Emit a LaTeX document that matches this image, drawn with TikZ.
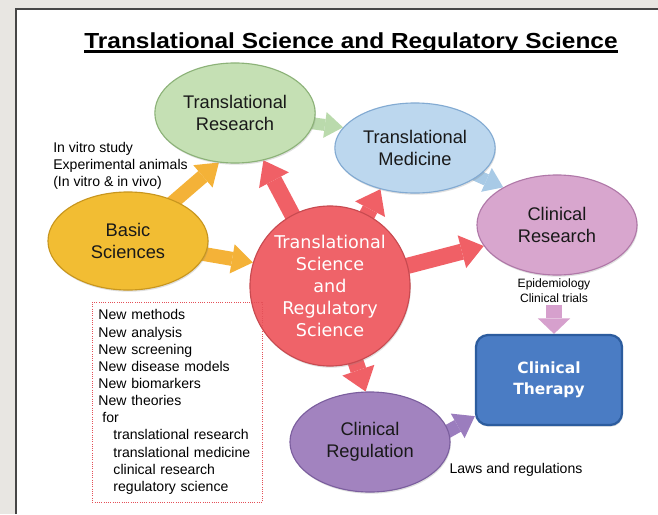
\documentclass[tikz,border=0pt]{standalone}
\usepackage{fontspec}
\setmainfont{Liberation Sans}
\newfontfamily\dejavu{DejaVu Sans}
\newfontfamily\titlefont[FakeStretch=1.12]{Liberation Sans}
\usetikzlibrary{positioning,arrows.meta,shapes.geometric,shadows,backgrounds}

\definecolor{slidegray}{RGB}{232,230,226}
\definecolor{framegray}{RGB}{70,70,70}
\definecolor{trgreen}{RGB}{197,224,180}
\definecolor{trgreenline}{RGB}{140,178,120}
\definecolor{tmblue}{RGB}{188,215,238}
\definecolor{tmblueline}{RGB}{130,170,210}
\definecolor{crpink}{RGB}{216,166,206}
\definecolor{crpinkline}{RGB}{176,120,168}
\definecolor{bsyellow}{RGB}{242,189,51}
\definecolor{bsyellowline}{RGB}{200,150,30}
\definecolor{tsred}{RGB}{239,99,105}
\definecolor{tsredline}{RGB}{200,74,80}
\definecolor{regpurple}{RGB}{162,131,191}
\definecolor{regpurpleline}{RGB}{123,94,158}
\definecolor{ctblue}{RGB}{74,124,196}
\definecolor{ctblueline}{RGB}{44,92,158}
\definecolor{boxred}{RGB}{228,80,88}
\definecolor{arryellow}{RGB}{244,178,56}
\definecolor{arrred}{RGB}{240,96,102}
\definecolor{arrgreen}{RGB}{186,218,172}
\definecolor{arrblue}{RGB}{168,202,230}
\definecolor{arrpink}{RGB}{214,160,205}
\definecolor{arrpurple}{RGB}{155,125,190}

\tikzset{
  bubble/.style={ellipse, draw, line width=0.8pt, minimum width=4cm,
                 minimum height=2.5cm, align=center, text=black!90,
                 font=\fontsize{13}{15.6}\selectfont,
                 drop shadow={opacity=0.25, shadow xshift=0.6pt, shadow yshift=-1.2pt}},
  greenbubble/.style={bubble, draw=trgreenline, fill=trgreen},
  bluebubble/.style={bubble, draw=tmblueline, fill=tmblue},
  pinkbubble/.style={bubble, draw=crpinkline, fill=crpink},
  yellowbubble/.style={bubble, draw=bsyellowline, fill=bsyellow},
  purplebubble/.style={bubble, draw=regpurpleline, fill=regpurple},
  redcircle/.style={circle, draw=tsredline, fill=tsred, line width=0.8pt,
                    minimum size=4cm, inner sep=0pt, align=center, text=white,
                    font=\dejavu\fontsize{12.5}{15.6}\selectfont,
                    drop shadow={opacity=0.25, shadow xshift=0.6pt, shadow yshift=-1.2pt}},
  therapybox/.style={rectangle, rounded corners=0.3cm, draw=ctblueline, line width=1.6pt,
                     fill=ctblue, minimum width=3.65cm, minimum height=2.25cm,
                     align=center, text=white, font=\dejavu\bfseries\fontsize{11}{15}\selectfont,
                     drop shadow={opacity=0.25, shadow xshift=0.6pt, shadow yshift=-1.2pt}},
  note/.style={align=left, inner sep=0pt, font=\fontsize{10}{12.2}\selectfont},
  notebox/.style={note, draw=boxred, densely dotted, line width=0.6pt, text width=3.95cm,
                  minimum height=5cm, inner xsep=0.15cm},
  fatarrow/.style={line width=10pt, -{Triangle[length=15pt, width=21pt, line width=0pt]}},
  yellowarrow/.style={fatarrow, draw=arryellow},
  redarrow/.style={line width=11.5pt, draw=arrred,
                   -{Triangle[length=16pt, width=24pt, line width=0pt]}},
  greenarrow/.style={line width=8.5pt, draw=arrgreen,
                     -{Triangle[length=13pt, width=18.5pt, line width=0pt]}},
  bluearrow/.style={line width=8.5pt, draw=arrblue,
                    -{Triangle[length=13pt, width=18.5pt, line width=0pt]}},
  pinkarrow/.style={line width=12pt, draw=arrpink,
                    -{Triangle[length=11pt, width=23pt, line width=0pt]}},
  purplearrow/.style={line width=9.5pt, draw=arrpurple,
                      -{Triangle[length=14pt, width=20pt, line width=0pt]}},
}

\begin{document}
\begin{tikzpicture}[x=0.025cm, y=-0.025cm]
  \useasboundingbox (0,0) rectangle (658,514);
  \begin{pgfonlayer}{background}
    % slide page
    \fill[slidegray] (0,0) rectangle (658,514);
    \fill[white] (16,9) rectangle (658,514);
    \draw[framegray, line width=1.4pt] (16,514) -- (16,9) -- (658,9);
  \end{pgfonlayer}

  % title
  \node[anchor=base, inner sep=0pt, font=\titlefont\bfseries\fontsize{15.5}{18}\selectfont]
    (title) at (351,48) {Translational Science and Regulatory Science};
  \draw[line width=1.6pt] ([yshift=-2.4pt]title.base west) -- ([yshift=-2.4pt]title.base east);

  % fields
  \node[greenbubble] (tr) at (235,113) {Translational\\Research};
  \node[bluebubble, minimum height=2.25cm] (tm) at (415,148) {Translational\\Medicine};
  \node[pinkbubble] (cr) at (557,225) {Clinical\\Research};
  \node[yellowbubble, minimum height=2.45cm] (bs) at (128,241) {Basic\\Sciences};
  \node[redcircle] (tsrs) at (330,286) {Translational\\Science\\and\\Regulatory\\Science};
  \node[purplebubble] (creg) at (370,442) {Clinical\\Regulation};
  \node[therapybox] (ct) at (549,380) {Clinical\\Therapy};

  % side notes
  \node[note, anchor=west] (invitro) at (53,166)
    {In vitro study\\Experimental animals\\(In vitro \& in vivo)};
  \node[notebox] (newlist) at (177.5,402)
    {New methods\\New analysis\\New screening\\New disease models\\New biomarkers\\New theories\\
     \hspace*{0.1cm}for\\
     \hspace*{0.375cm}translational research\\
     \hspace*{0.375cm}translational medicine\\
     \hspace*{0.375cm}clinical research\\
     \hspace*{0.375cm}regulatory science};
  \node[align=center, inner sep=1pt, font=\fontsize{8.6}{10.5}\selectfont] (epi) at (554,291)
    {Epidemiology\\Clinical trials};
  \node[note] (laws) at (516,470) {Laws and regulations};

  % block arrows behind the bubbles
  \begin{pgfonlayer}{background}
    \draw[yellowarrow] (bs.center) -- (tr.-108);
    \draw[yellowarrow] (bs.center) -- (tsrs.163);
    \draw[greenarrow] (tr.center) -- (tm.164);
    \draw[bluearrow] (tm.center) -- (cr.145);
    \draw[redarrow] (tsrs.center) -- (tr.-59);
    \draw[redarrow] (tsrs.center) -- (tm.-130);
    \draw[redarrow] (tsrs.center) -- (cr.196);
    \draw[redarrow] (tsrs.center) -- (creg.95);
    \draw[purplearrow, shorten <=-0.3cm] (creg.8) -- (ct.206);
    \draw[pinkarrow] (epi.south) -- (epi.south |- ct.north);
  \end{pgfonlayer}
\end{tikzpicture}
\end{document}
